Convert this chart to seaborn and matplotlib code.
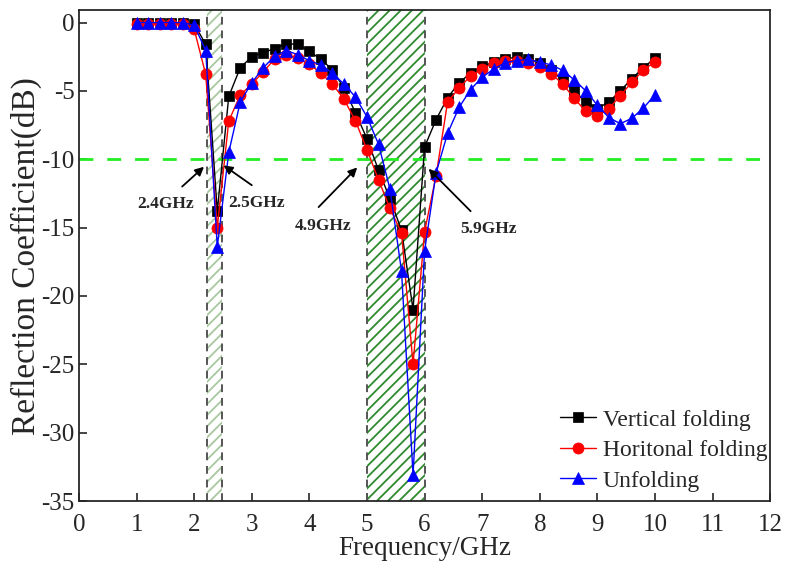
import numpy as np
import pandas as pd
import matplotlib
matplotlib.use('Agg')
import matplotlib.pyplot as plt
import seaborn as sns

# frequency points (GHz), 0.2 GHz step
freq = [1.0, 1.2, 1.4, 1.6, 1.8, 2.0, 2.2, 2.4, 2.6, 2.8,
        3.0, 3.2, 3.4, 3.6, 3.8, 4.0, 4.2, 4.4, 4.6, 4.8,
        5.0, 5.2, 5.4, 5.6, 5.8, 6.0, 6.2, 6.4, 6.6, 6.8,
        7.0, 7.2, 7.4, 7.6, 7.8, 8.0, 8.2, 8.4, 8.6, 8.8,
        9.0, 9.2, 9.4, 9.6, 9.8, 10.0]

vertical = [-0.05, -0.05, -0.05, -0.05, -0.05, -0.1, -1.6, -13.8, -5.4, -3.3,
            -2.5, -2.2, -1.9, -1.55, -1.6, -2.1, -2.7, -3.45, -4.8, -6.6,
            -8.5, -10.8, -12.9, -15.2, -21.0, -9.1, -7.1, -5.5, -4.4, -3.7,
            -3.2, -2.9, -2.65, -2.55, -2.65, -2.95, -3.5, -4.2, -5.0, -5.8,
            -6.3, -5.8, -5.0, -4.1, -3.3, -2.6]

horizontal = [-0.1, -0.1, -0.1, -0.1, -0.1, -0.5, -3.8, -15.0, -7.2, -5.3,
              -4.5, -3.6, -2.65, -2.35, -2.6, -3.05, -3.7, -4.5, -5.6, -7.2,
              -9.3, -11.5, -13.6, -15.4, -25.0, -15.3, -11.2, -5.8, -4.8, -3.9,
              -3.4, -2.95, -2.8, -2.8, -2.95, -3.25, -3.75, -4.5, -5.55, -6.5,
              -6.85, -6.3, -5.35, -4.35, -3.5, -2.85]

unfolding = [0.0, 0.0, 0.0, 0.0, 0.0, -0.2, -2.05, -16.4, -9.5, -5.8,
             -4.4, -3.3, -2.45, -2.05, -2.35, -2.8, -3.1, -3.7, -4.5, -5.45,
             -6.9, -8.9, -12.2, -18.2, -33.1, -16.7, -11.0, -8.1, -6.2, -4.9,
             -4.0, -3.4, -2.95, -2.78, -2.7, -2.9, -3.1, -3.5, -4.2, -5.0,
             -6.05, -6.95, -7.4, -7.0, -6.25, -5.3]

series_names = ['Vertical folding', 'Horitonal folding', 'Unfolding']
series_colors = ['black', 'red', 'blue']
series_markers = ['s', 'o', '^']
series_sizes = [7.5, 8, 9]

band1 = (2.22, 2.48)
band2 = (5.0, 6.0)

sns.set_style('ticks')
plt.rcParams['font.family'] = ['Liberation Serif', 'DejaVu Serif']
plt.rcParams['axes.unicode_minus'] = False
plt.rcParams['hatch.linewidth'] = 1.3

fig = plt.figure(figsize=(7.88, 5.69), dpi=100)
ax = fig.add_axes([0.1003, 0.1195, 0.877, 0.8625])

# shaded bands
ax.axvspan(*band1, facecolor='none', edgecolor='#a8c8a0', hatch='///', linewidth=0, zorder=0)
ax.axvspan(*band2, facecolor='none', edgecolor='#2f8a2f', hatch='///', linewidth=0, zorder=0)
for xv in list(band1) + list(band2):
    ax.axvline(xv, color='#555555', linestyle=(0, (4, 3)), linewidth=1.4, zorder=1)

# -10 dB reference
ax.axhline(-10, color='#22ee22', linestyle=(0, (5, 5)), linewidth=2.0, zorder=1)

df = pd.DataFrame({'freq': freq, 'Vertical folding': vertical,
                   'Horitonal folding': horizontal, 'Unfolding': unfolding})

for name, col, mk, ms in zip(series_names, series_colors, series_markers, series_sizes):
    sns.lineplot(data=df, x='freq', y=name, ax=ax, color=col, marker=mk,
                 markersize=ms, markeredgecolor=col, markeredgewidth=0.5,
                 linewidth=1.0, label=name, zorder=3)

ax.set_xlim(0, 12)
ax.set_ylim(-35, 0.9)
ax.set_xticks(range(0, 13))
ax.set_yticks(range(-35, 1, 5))
ax.tick_params(direction='in', length=6, width=1.2, labelsize=18, pad=3,
               top=False, right=False)
ax.tick_params(axis='x', pad=9)
for s in ax.spines.values():
    s.set_linewidth(1.3)
    s.set_visible(True)
ax.set_xlabel('Frequency/GHz', fontsize=19.5, labelpad=0)
ax.set_ylabel('Reflection Coefficient(dB)', fontsize=24, labelpad=0)

# annotations
arrow = dict(arrowstyle='-|>', color='black', lw=1.3, mutation_scale=13, shrinkA=0, shrinkB=0)
notes = [('2.4GHz', (2.17, -10.55), (1.79, -12.0), (1.51, -13.3)),
         ('2.5GHz', (2.51, -10.45), (3.0, -11.9), (3.08, -13.2)),
         ('4.9GHz', (4.83, -10.6), (4.16, -13.5), (4.23, -14.9)),
         ('5.9GHz', (6.07, -10.7), (6.8, -13.8), (7.11, -15.1))]
for txt, tip, tail, pos in notes:
    ax.annotate('', xy=tip, xytext=tail, arrowprops=arrow)
    ax.text(pos[0], pos[1], txt, fontsize=12.5, fontweight='bold', ha='center', va='center')

ax.legend(loc='lower right', frameon=False, fontsize=17, handlelength=1.5,
          handletextpad=0.3, labelspacing=0.38, borderaxespad=0.0,
          bbox_to_anchor=(1.01, 0.0))

fig.savefig('out.png', dpi=100)
